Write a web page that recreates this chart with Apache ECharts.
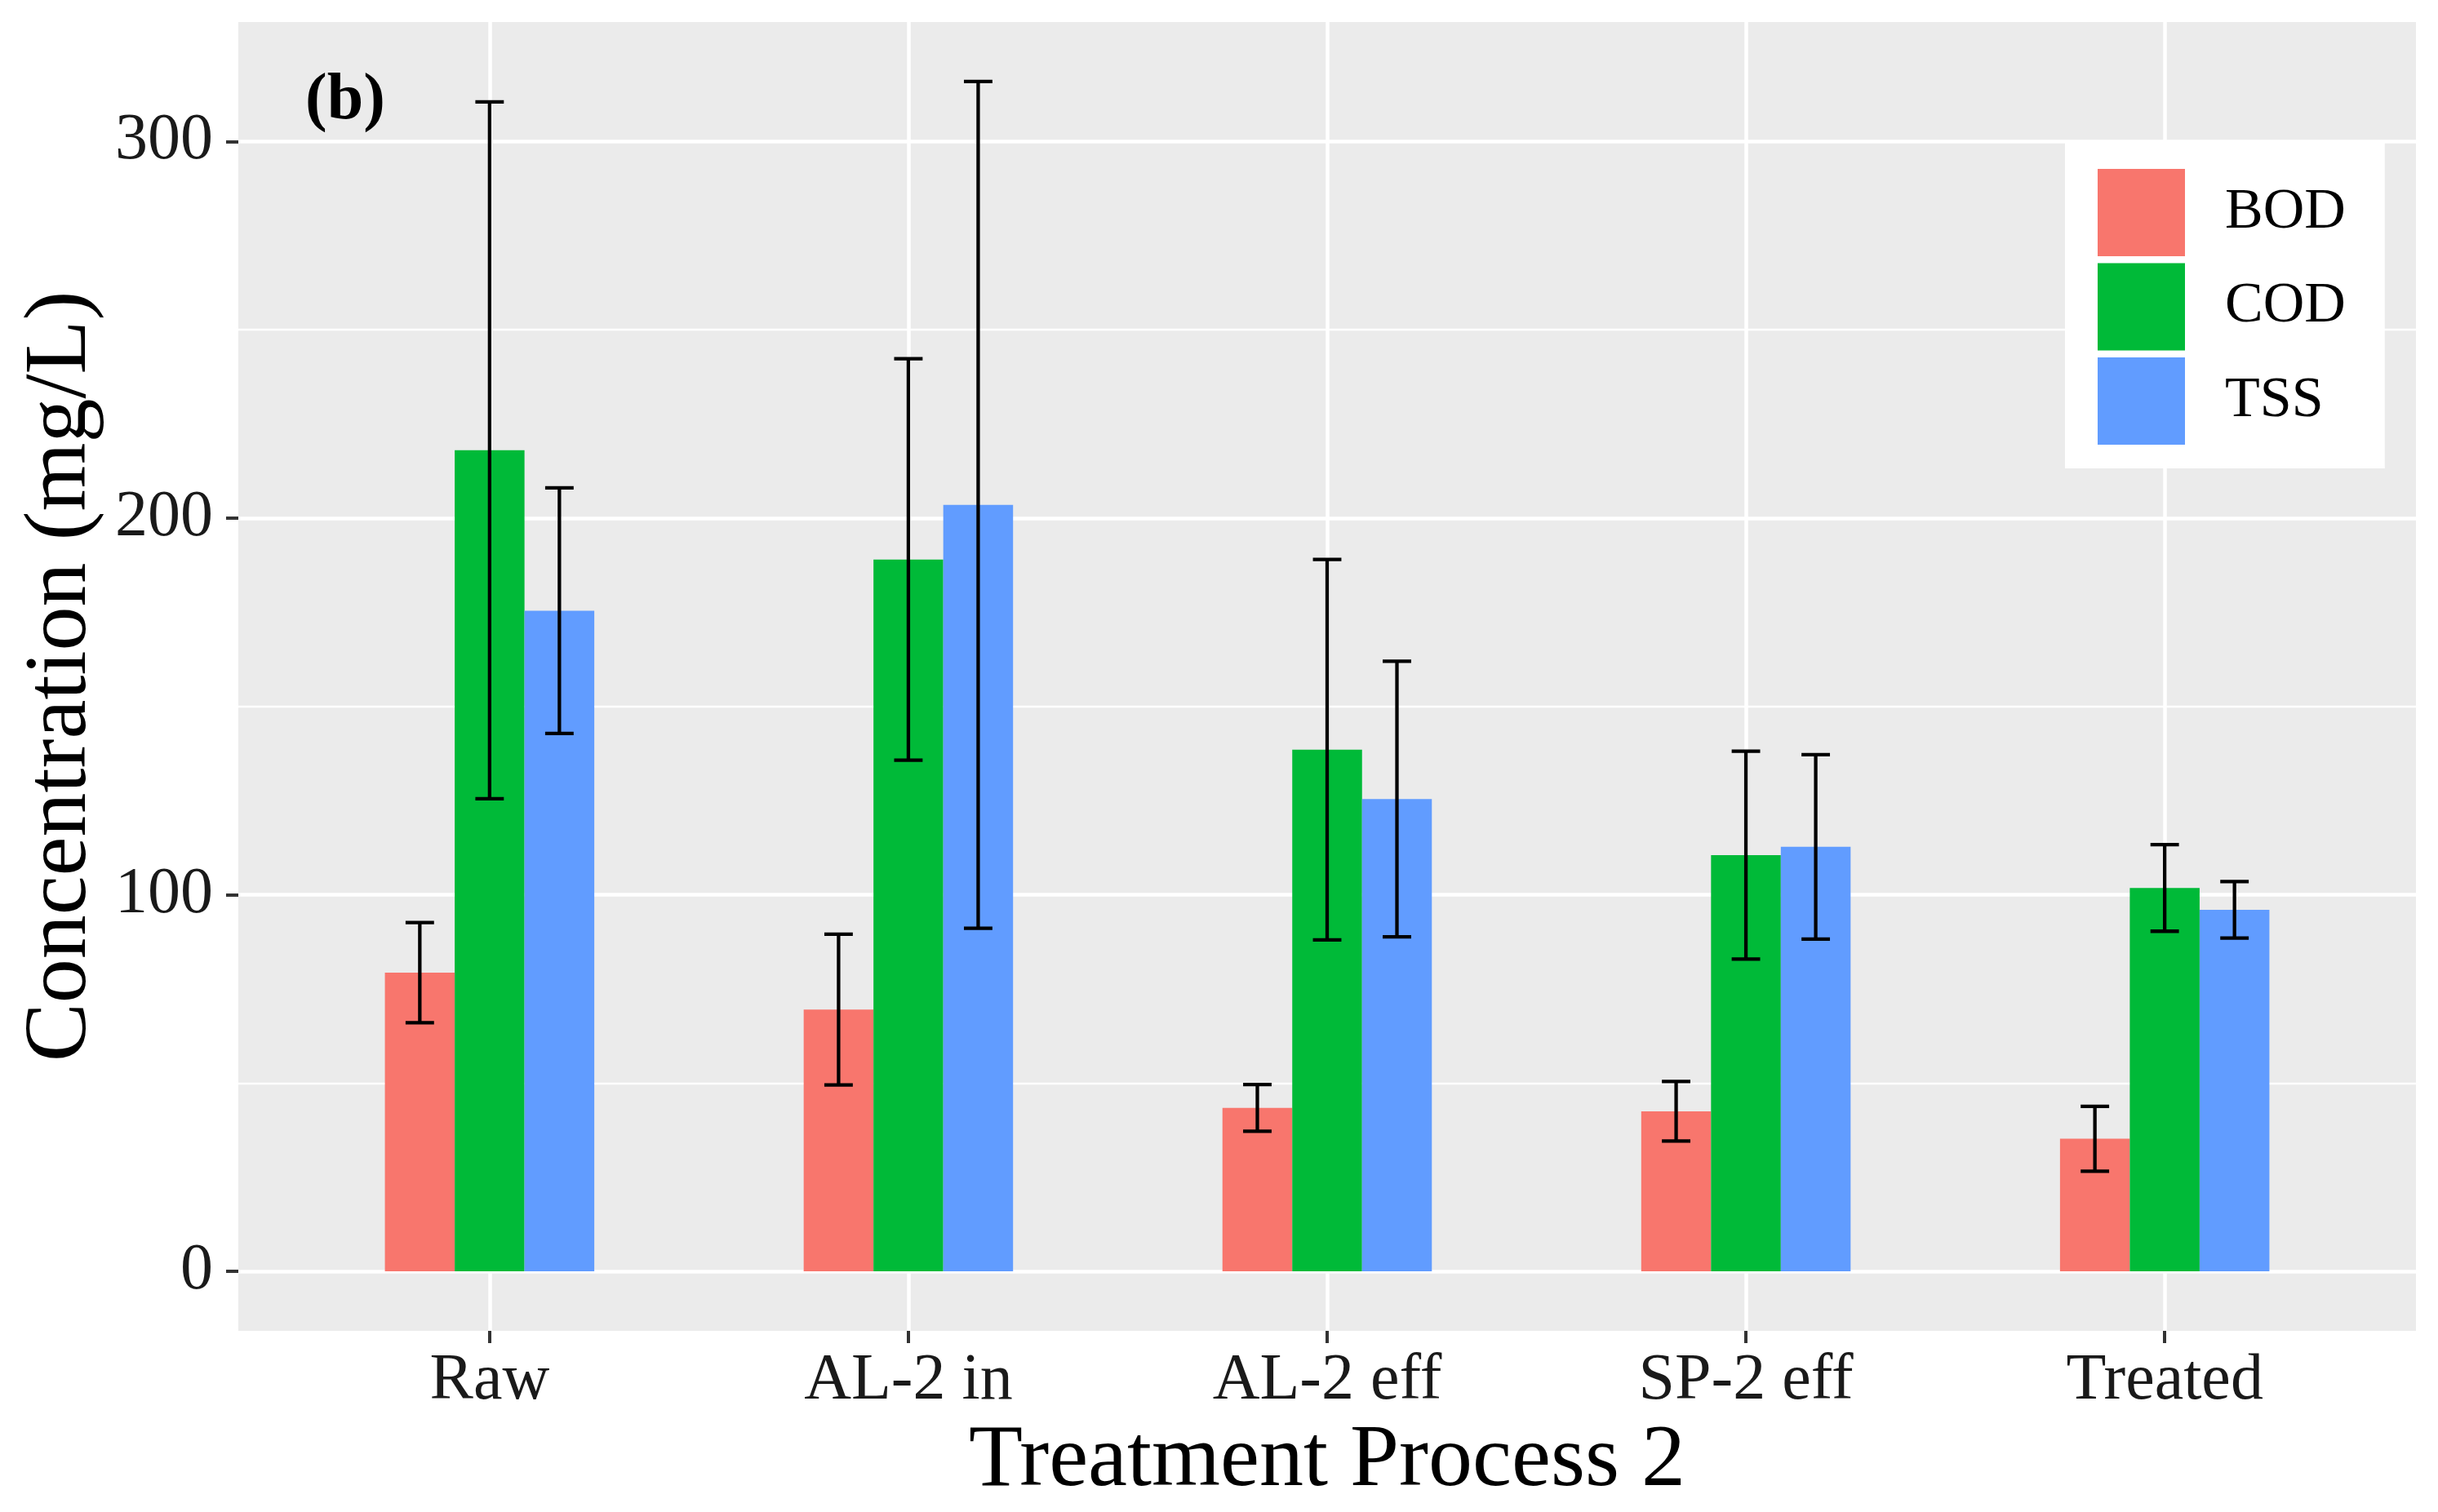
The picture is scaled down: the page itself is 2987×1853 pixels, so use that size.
<!DOCTYPE html>
<html>
<head>
<meta charset="utf-8">
<script src="https://cdn.jsdelivr.net/npm/echarts@6.0.0/dist/echarts.min.js"></script>
<style>
html, body { margin: 0; padding: 0; background: #fff; }
#chart { width: 2987px; height: 1853px; }
</style>
</head>
<body>
<div id="chart"></div>
<script>
// data
var categories = ['Raw', 'AL-2 in', 'AL-2 eff', 'SP-2 eff', 'Treated'];
var seriesNames = ['BOD', 'COD', 'TSS'];
var bodMean = [79.3, 69.5, 43.4, 42.5, 35.2];
var bodSd = [13.3, 20.0, 6.2, 7.9, 8.6];
var codMean = [218.0, 189.0, 138.5, 110.5, 101.8];
var codSd = [92.5, 53.3, 50.5, 27.6, 11.5];
var tssMean = [175.4, 203.5, 125.4, 112.7, 96.0];
var tssSd = [32.6, 112.4, 36.6, 24.5, 7.5];
var yTicks = [0, 100, 200, 300];
var yMinorTicks = [50, 150, 250];
var colors = ['#F8766D', '#00BA38', '#619CFF'];

var means = [bodMean, codMean, tssMean];
var sds = [bodSd, codSd, tssSd];
var FONT = 'Liberation Serif';
var dodge = 0.5 / 3;     // bar width inside a group
var capHalf = 0.034;     // half width of error bar caps
var xTicks = categories.map(function (c, i) { return i; });

// ggplot-like 5% expansion of the y range
var yTop = 0;
means.forEach(function (m, k) {
    m.forEach(function (v, i) { yTop = Math.max(yTop, v + sds[k][i]); });
});
var yPad = yTop * 0.05;

var myChart = echarts.init(document.getElementById('chart'));

function barItem(k) {
    return function (params, api) {
        var x = api.value(0) + (k - 1) * dodge;
        var p0 = api.coord([x - dodge / 2, api.value(1)]);
        var p1 = api.coord([x + dodge / 2, 0]);
        return {
            type: 'rect',
            shape: { x: p0[0], y: p0[1], width: p1[0] - p0[0], height: p1[1] - p0[1] },
            style: { fill: colors[k] }
        };
    };
}

function errItem(params, api) {
    var x = api.value(0) + (api.value(1) - 1) * dodge;
    var lo = api.value(2), hi = api.value(3);
    var a = api.coord([x, hi]), b = api.coord([x, lo]);
    var l = api.coord([x - capHalf, hi])[0], r = api.coord([x + capHalf, hi])[0];
    var st = { stroke: '#000', lineWidth: 4.3 };
    return {
        type: 'group',
        children: [
            { type: 'line', shape: { x1: a[0], y1: a[1], x2: b[0], y2: b[1] }, style: st },
            { type: 'line', shape: { x1: l, y1: a[1], x2: r, y2: a[1] }, style: st },
            { type: 'line', shape: { x1: l, y1: b[1], x2: r, y2: b[1] }, style: st }
        ]
    };
}

var series = seriesNames.map(function (name, k) {
    return {
        name: name,
        type: 'custom',
        z: 2,
        itemStyle: { color: colors[k] },
        renderItem: barItem(k),
        encode: { x: 0, y: 1 },
        data: means[k].map(function (v, i) { return [i, v]; })
    };
});

var errData = [];
means.forEach(function (m, k) {
    m.forEach(function (v, i) { errData.push([i, k, v - sds[k][i], v + sds[k][i]]); });
});
series.push({
    name: 'err',
    type: 'custom',
    z: 3,
    renderItem: errItem,
    encode: { x: 0, y: [2, 3] },
    data: errData
});

// minor grid lines
series.push({
    name: 'minor',
    type: 'line',
    data: [],
    markLine: {
        silent: true,
        symbol: 'none',
        z: 1,
        label: { show: false },
        lineStyle: { color: '#fff', width: 2.3, type: 'solid' },
        data: yMinorTicks.map(function (v) { return { yAxis: v }; })
    }
});

var option = {
    animation: false,
    backgroundColor: '#fff',
    grid: {
        left: 292, right: 27, top: 27, bottom: 222,
        show: true, backgroundColor: '#EBEBEB', borderWidth: 0
    },
    legend: {
        data: seriesNames,
        orient: 'vertical',
        left: 2530,
        top: 174,
        icon: 'rect',
        itemWidth: 107,
        itemHeight: 107,
        itemGap: 8.5,
        backgroundColor: '#fff',
        padding: [33, 48, 29, 40],
        textStyle: { fontFamily: FONT, fontSize: 70, color: '#000', padding: [0, 0, 0, 44] }
    },
    xAxis: {
        type: 'value',
        min: -0.6,
        max: 4.6,
        name: 'Treatment Process 2',
        nameLocation: 'middle',
        nameGap: 91,
        nameTextStyle: { fontFamily: FONT, fontSize: 108, color: '#000' },
        axisLine: { show: false, onZero: false },
        axisTick: { show: true, length: 15, customValues: xTicks, lineStyle: { color: '#333', width: 4 } },
        axisLabel: {
            customValues: xTicks,
            margin: 22,
            fontFamily: FONT, fontSize: 80, color: '#1a1a1a',
            formatter: function (v) { return categories[Math.round(v)]; }
        },
        splitLine: { show: true, lineStyle: { color: '#fff', width: 4.5 } }
    },
    yAxis: {
        type: 'value',
        min: -yPad,
        max: yTop + yPad,
        name: 'Concentration (mg/L)',
        nameLocation: 'middle',
        nameGap: 159,
        nameRotate: 90,
        nameTextStyle: { fontFamily: FONT, fontSize: 108, color: '#000' },
        axisLine: { show: false, onZero: false },
        axisTick: { show: true, length: 15, customValues: yTicks, lineStyle: { color: '#333', width: 4 } },
        axisLabel: {
            customValues: yTicks,
            margin: 31,
            fontFamily: FONT, fontSize: 80, color: '#1a1a1a'
        },
        splitLine: { show: true, lineStyle: { color: '#fff', width: 4.5 } }
    },
    graphic: [{
        type: 'text',
        left: 374,
        top: 84,
        style: { text: '(b)', font: 'bold 80px "Liberation Serif"', fill: '#000' }
    }],
    series: series
};

myChart.setOption(option);
</script>
</body>
</html>
